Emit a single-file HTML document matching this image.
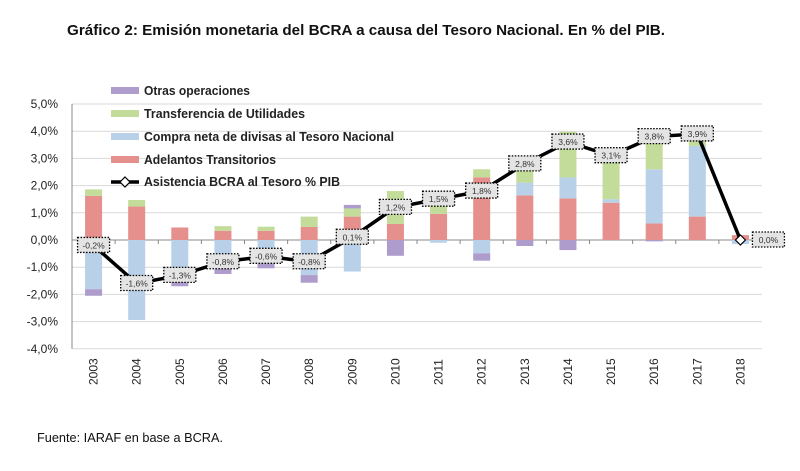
<!DOCTYPE html>
<html><head><meta charset="utf-8"><style>
body{margin:0;background:#fff;width:800px;height:471px;overflow:hidden;font-family:"Liberation Sans",sans-serif}
svg{position:absolute;left:0;top:0}
</style></head><body>
<svg id="c" width="800" height="471">
<text x="67" y="35" font-size="15" font-weight="bold" fill="#111" textLength="598" lengthAdjust="spacingAndGlyphs">Gráfico 2: Emisión monetaria del BCRA a causa del Tesoro Nacional. En % del PIB.</text>
<text x="37" y="442" font-size="13" fill="#111" textLength="186" lengthAdjust="spacingAndGlyphs">Fuente: IARAF en base a BCRA.</text>
</svg>
<script>
const years=["2003","2004","2005","2006","2007","2008","2009","2010","2011","2012","2013","2014","2015","2016","2017","2018"];
const adelantos=[1.62,1.23,0.46,0.34,0.34,0.48,0.86,0.59,0.96,2.3,1.64,1.53,1.37,0.61,0.86,0.18];
const compra=[-1.81,-2.94,-1.45,-1.04,-0.86,-1.29,-1.16,0,-0.1,-0.49,0.47,0.77,0.13,1.99,2.6,-0.15];
const transfer=[0.24,0.24,0,0.17,0.15,0.38,0.3,1.21,0.3,0.3,0.55,1.68,1.5,1.1,0.22,0];
const otras=[-0.24,0,-0.25,-0.21,-0.18,-0.28,0.13,-0.58,0,-0.27,-0.22,-0.37,0,-0.05,0,0];
const asistencia=[-0.2,-1.6,-1.3,-0.8,-0.6,-0.8,0.1,1.2,1.5,1.8,2.8,3.6,3.1,3.8,3.9,0.0];
const ticks=[5,4,3,2,1,0,-1,-2,-3,-4];
const NS="http://www.w3.org/2000/svg";
const svg=document.getElementById('c');
const X0=72,X1=762,Y0=240,K=27.2;
const bw=(X1-X0)/years.length;
const xc=i=>X0+bw*(i+0.5);
const y=v=>Y0-v*K;
function mk(t,a){const e=document.createElementNS(NS,t);for(const k in a)e.setAttribute(k,a[k]);svg.appendChild(e);return e;}
ticks.forEach(t=>{
 const g=mk('line',{x1:X0,x2:X1,y1:y(t),y2:y(t),stroke:t===0?'#888':'#d9d9d9','stroke-width':1});
 
 
 const l=mk('text',{x:58,y:y(t)+4,'text-anchor':'end','font-size':12,fill:'#222'});
 l.textContent=t.toFixed(1).replace('.',',')+'%';
 
 
});
const ax=mk('line',{x1:X0,x2:X0,y1:y(5),y2:y(-4),stroke:'#888'});


const series=[[adelantos,'#e6908e','bar-adelantos'],[compra,'#b8d0e8','bar-compra'],[transfer,'#c3dc9a','bar-transferencia'],[otras,'#ad9ccc','bar-otras']];
years.forEach((yr,i)=>{
 let pos=0,neg=0;
 series.forEach(([arr,col,nm])=>{
  const v=arr[i];if(!v)return;
  let a,b;
  if(v>0){a=pos;b=pos+v;pos=b;}else{a=neg;b=neg+v;neg=b;}
  const r=mk('rect',{x:xc(i)-8.5,width:17,y:Math.min(y(a),y(b)),height:Math.abs(y(a)-y(b)),fill:col});
  
  
 });
 const tk=mk('line',{x1:X0+bw*(i+1),x2:X0+bw*(i+1),y1:Y0,y2:Y0+4,stroke:'#888'});
 
 
 const t=mk('text',{transform:`translate(${xc(i)+4},385) rotate(-90)`,'font-size':12,fill:'#222'});
 t.textContent=yr;
 
 
});
const ln=mk('polyline',{points:asistencia.map((v,i)=>xc(i)+','+y(v)).join(' '),fill:'none',stroke:'#000','stroke-width':3.5});


const last=years.length-1;
const dm=mk('path',{d:`M${xc(last)} ${y(asistencia[last])-5}l5 5l-5 5l-5-5z`,fill:'#fff',stroke:'#000','stroke-width':1.2});


asistencia.forEach((v,i)=>{
 const cx=i===last?xc(i)+28:xc(i), cy=y(v);
 const r=mk('rect',{x:cx-16,y:cy-8,width:32,height:15,fill:'#e4e4e4',stroke:'#000','stroke-width':1.3,'stroke-dasharray':'1.5,1.5'});
 
 
 const t=mk('text',{x:cx,y:cy+3,'text-anchor':'middle','font-size':8.5,fill:'#333'});
 t.textContent=v.toFixed(1).replace('.',',')+'%';
 
 
});
const leg=[['#ad9ccc','Otras operaciones',106],['#c3dc9a','Transferencia de Utilidades',161],['#b8d0e8','Compra neta de divisas al Tesoro Nacional',250],['#e6908e','Adelantos Transitorios',132]];
leg.forEach(([c,n,w],k)=>{
 const yy=91+k*23;
 const r=mk('rect',{x:111,y:yy-4,width:28,height:7,fill:c});
 
 
 const t=mk('text',{x:144,y:yy+4,'font-size':13,'font-weight':'bold',fill:'#222',textLength:w,lengthAdjust:'spacingAndGlyphs'});
 t.textContent=n;
 
 
});
const ll=mk('line',{x1:111,x2:139,y1:182,y2:182,stroke:'#000','stroke-width':3.5});


const ld=mk('path',{d:'M125 177l5 5l-5 5l-5-5z',fill:'#fff',stroke:'#000','stroke-width':1.2});


const lt=mk('text',{x:144,y:186,'font-size':13,'font-weight':'bold',fill:'#222',textLength:196,lengthAdjust:'spacingAndGlyphs'});
lt.textContent='Asistencia BCRA al Tesoro % PIB';


</script>
</body></html>
